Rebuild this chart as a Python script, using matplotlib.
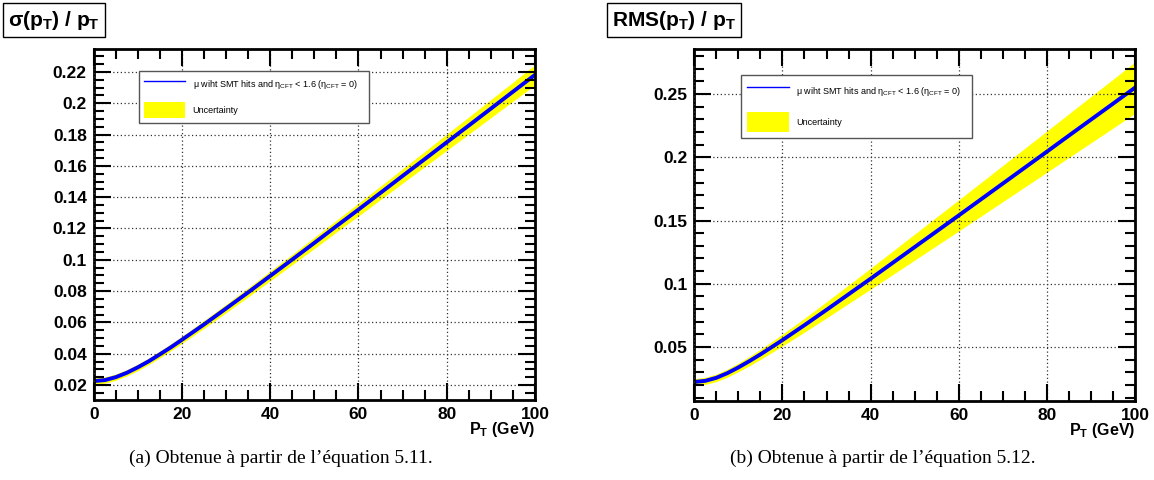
import matplotlib
matplotlib.use("Agg")
import matplotlib.pyplot as plt
from matplotlib.lines import Line2D
from matplotlib.ticker import MultipleLocator, FuncFormatter

plt.rcParams['font.family'] = ['Liberation Sans', 'DejaVu Sans']
plt.rcParams['mathtext.fontset'] = 'custom'
plt.rcParams['mathtext.rm'] = 'Liberation Sans'
plt.rcParams['mathtext.it'] = 'Liberation Sans:italic'
plt.rcParams['mathtext.bf'] = 'Liberation Sans:bold'

# values
pt = [0, 2.5, 5, 7.5, 10, 12.5, 15, 17.5, 20, 22.5, 25, 30, 35, 40, 45, 50, 55, 60, 65, 70,
      75, 80, 85, 90, 95, 100]

sigma = [0.0225, 0.0231, 0.0250, 0.0278, 0.0313, 0.0352, 0.0396, 0.0441, 0.0489, 0.0538,
         0.0587, 0.0689, 0.0792, 0.0897, 0.1002, 0.1108, 0.1215, 0.1321, 0.1428, 0.1536,
         0.1643, 0.1751, 0.1858, 0.1966, 0.2074, 0.2182]
sigma_err = [0.0020, 0.0020, 0.0020, 0.0020, 0.0021, 0.0021, 0.0022, 0.0022, 0.0023, 0.0024,
             0.0025, 0.0027, 0.0029, 0.0031, 0.0033, 0.0036, 0.0038, 0.0041, 0.0043, 0.0046,
             0.0049, 0.0052, 0.0055, 0.0058, 0.0061, 0.0065]

rms = [0.0224, 0.0233, 0.0257, 0.0294, 0.0339, 0.0389, 0.0442, 0.0498, 0.0555, 0.0614,
       0.0673, 0.0794, 0.0917, 0.1040, 0.1165, 0.1290, 0.1415, 0.1540, 0.1666, 0.1792,
       0.1918, 0.2044, 0.2171, 0.2297, 0.2423, 0.2550]
rms_err = [0.0026, 0.0028, 0.0030, 0.0032, 0.0034, 0.0037, 0.0040, 0.0043, 0.0047, 0.0051,
           0.0055, 0.0064, 0.0073, 0.0083, 0.0093, 0.0103, 0.0113, 0.0123, 0.0133, 0.0143,
           0.0153, 0.0163, 0.0173, 0.0183, 0.0193, 0.0203]

legend_labels = ['μ wiht SMT hits and η$_{\\mathrm{CFT}}$ < 1.6 (η$_{\\mathrm{CFT}}$ = 0)',
                 'Uncertainty']

W, H = 1154, 480
fig = plt.figure(figsize=(W / 100, H / 100), dpi=100)


def px_axes(x0, y0, x1, y1):
    return fig.add_axes([x0 / W, 1 - y1 / H, (x1 - x0) / W, (y1 - y0) / H])


def fmt(v, pos):
    return '%g' % round(v, 4)


def draw(ax, y, err, ylim, major, minor, title, title_xy, caption, cap_x, leg_box, leg_kw):
    lo = [a - b for a, b in zip(y, err)]
    hi = [a + b for a, b in zip(y, err)]
    band = ax.fill_between(pt, lo, hi, color='#ffff00', lw=0)
    ax.plot(pt, y, color='#0000ff', lw=2.8)
    ax.set_xlim(0, 100)
    ax.set_ylim(*ylim)
    ax.xaxis.set_major_locator(MultipleLocator(20))
    ax.xaxis.set_minor_locator(MultipleLocator(5))
    ax.yaxis.set_major_locator(MultipleLocator(major))
    ax.yaxis.set_minor_locator(MultipleLocator(minor))
    ax.yaxis.set_major_formatter(FuncFormatter(fmt))
    ax.tick_params(which='both', direction='in', top=True, right=True, width=1.5,
                   labelsize=12.5, pad=5)
    ax.tick_params(which='major', length=12)
    ax.tick_params(which='minor', length=7)
    for lab in ax.get_xticklabels() + ax.get_yticklabels():
        lab.set_fontweight('bold')
    for s in ax.spines.values():
        s.set_linewidth(2)
    ax.grid(True, which='major', ls=(0, (1, 2)), color='#333333', lw=0.9)
    ax.set_axisbelow(False)
    ax.text(1.0, -0.058, r'P$_{\mathbf{T}}$ (GeV)', transform=ax.transAxes, ha='right',
            va='top', fontsize=11.5, fontweight='bold')

    fig.text(title_xy[0] / W, 1 - title_xy[1] / H, title, fontsize=15, fontweight='bold',
             ha='left', va='center',
             bbox=dict(boxstyle='square,pad=0.26', fc='white', ec='black', lw=1))

    fig.text(cap_x / W, 1 - 458 / H, caption, fontsize=14, ha='center', va='center',
             family='Liberation Serif')

    # thin line in the legend, like the original
    key = Line2D([], [], color='#0000ff', lw=1)
    x0, y0, x1, y1 = leg_box
    leg = ax.legend([key, band], legend_labels, loc='upper left', mode='expand',
                    bbox_to_anchor=(x0 / W, 1 - y0 / H, (x1 - x0) / W, 0),
                    bbox_transform=fig.transFigure, borderaxespad=0, fontsize=6.5,
                    fancybox=False, framealpha=1, edgecolor='#555555', **leg_kw)
    leg.get_frame().set_linewidth(1)


ax1 = px_axes(93.7, 49, 535, 400)
draw(ax1, sigma, sigma_err, (0.0104, 0.2347), 0.02, 0.005,
     r'σ(p$_{\mathbf{T}}$) / p$_{\mathbf{T}}$', (8, 20),
     '(a) Obtenue à partir de l’équation 5.11.', 281,
     (139, 71, 369, 131),
     dict(handlelength=4.6, handleheight=2.4, labelspacing=1.1, borderpad=0.55,
          handletextpad=0.8))

ax2 = px_axes(694.3, 49.3, 1135, 400.7)
draw(ax2, rms, rms_err, (0.0076, 0.2853), 0.05, 0.01,
     r'RMS(p$_{\mathbf{T}}$) / p$_{\mathbf{T}}$', (612, 20),
     '(b) Obtenue à partir de l’équation 5.12.', 883,
     (741, 75, 972, 146),
     dict(handlelength=4.6, handleheight=2.9, labelspacing=1.3, borderpad=0.7,
          handletextpad=0.8))

plt.savefig('out.png', dpi=100)
